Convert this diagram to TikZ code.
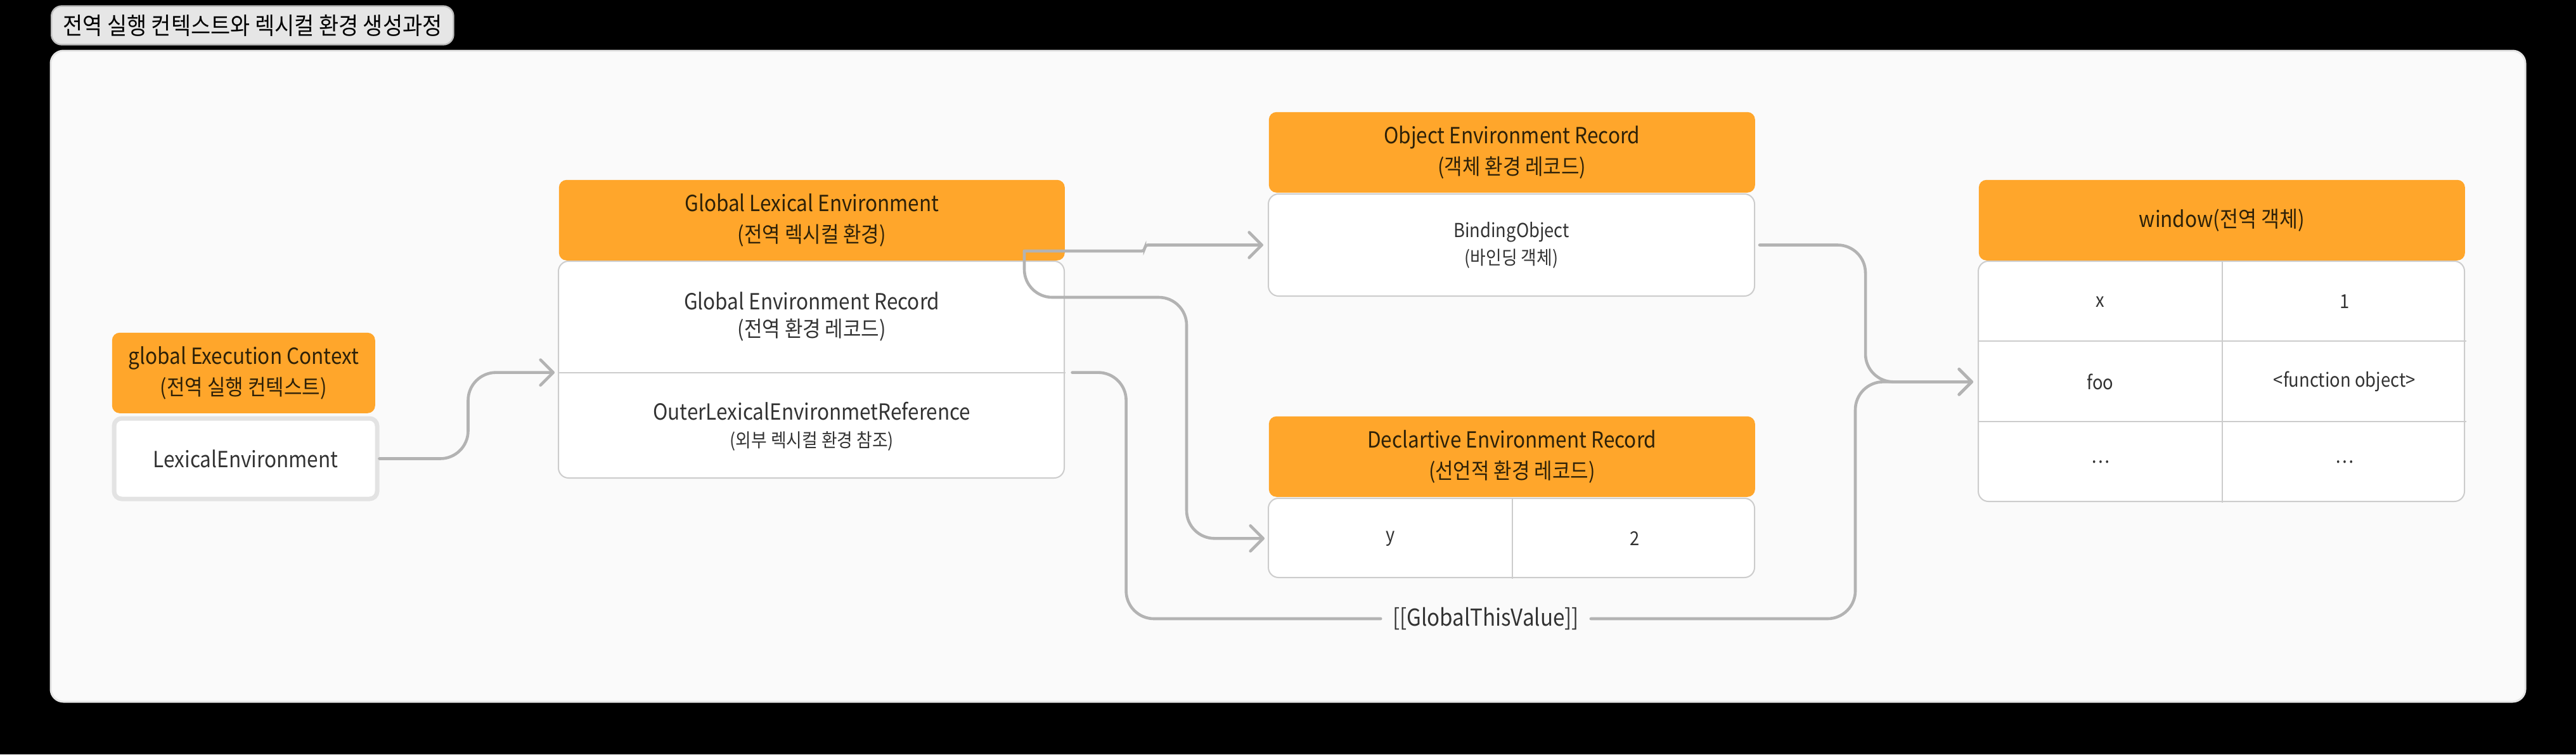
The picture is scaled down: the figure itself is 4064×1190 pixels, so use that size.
\documentclass[tikz,border=0pt]{standalone}
\usepackage{fontspec}
\setmainfont{Noto Sans CJK KR}[FakeStretch = 0.9]
\usetikzlibrary{arrows.meta}

\definecolor{headorange}{HTML}{FFA62B}
\definecolor{headink}{HTML}{2E2108}
\definecolor{bodyink}{HTML}{333333}
\definecolor{panelgray}{HTML}{FAFAFA}
\definecolor{panelline}{HTML}{E6E6E6}
\definecolor{titlegray}{HTML}{E6E6E6}
\definecolor{titleline}{HTML}{BDBDBD}
\definecolor{framegray}{HTML}{CCCCCC}
\definecolor{ctxline}{HTML}{E3E3E3}
\definecolor{linkgray}{HTML}{B3B3B3}

\newcommand{\bigtext}{\fontsize{8.75}{12.25}\selectfont}
\newcommand{\kortext}{\fontsize{8.6}{12.25}\selectfont}
\newcommand{\celltext}{\fontsize{7.6}{10.75}\selectfont}
\newcommand{\smalltext}{\fontsize{7.45}{10.75}\selectfont}

\begin{document}
\begin{tikzpicture}[%
        x = 0.25pt,
        y = -0.25pt,
        font = \bigtext,
        header/.style = {fill = headorange, text = headink, rounded corners = 3pt,
            minimum width = 191.75pt, minimum height = 31.75pt, align = center,
            inner sep = 0pt, anchor = north west},
        bodybox/.style = {draw = framegray, fill = white, line width = 0.5pt,
            rounded corners = 4pt, minimum width = 191.75pt, inner sep = 0pt,
            outer sep = 0pt, anchor = north west, align = center, text = bodyink},
        tablecell/.style = {minimum width = 95.875pt, minimum height = 31.6pt,
            inner sep = 0pt, anchor = north west, text = bodyink, font = \celltext},
        gridline/.style = {draw = framegray, line width = 0.5pt},
        link/.style = {draw = linkgray, line width = 1.15pt, rounded corners = 11pt,
            line cap = round, -{Straight Barb[length = 5pt, width = 10pt, round]}}
    ]

        % Black page and the light panel.
        \fill[black] (0,0) rectangle (4064,1190);
        \useasboundingbox (0,0) rectangle (4064,1190);
        \draw[fill = panelgray, draw = panelline, line width = 0.75pt, rounded corners = 5pt]
            (80,80) rectangle (3984,1107);

        % Title tab.
        \node[fill = titlegray, draw = titleline, line width = 0.6pt, rounded corners = 4pt,
            minimum height = 14pt, inner xsep = 4.5pt, anchor = west, text = black,
            font = \fontsize{9.4}{10}\selectfont] (title) at (80,40)
            {전역 실행 컨텍스트와 렉시컬 환경 생성과정};

        % Execution context.
        \node[header, minimum width = 103.75pt] (ctxhead) at (176,524)
            {\bigtext global Execution Context\\ \kortext (전역 실행 컨텍스트)};
        \node[bodybox, draw = ctxline, line width = 1.75pt, rounded corners = 3pt,
            minimum width = 103.75pt, minimum height = 31.75pt, outer sep = 0.875pt]
            (ctxbody) at (176.5,656.5) {LexicalEnvironment};

        % Global lexical environment.
        \node[header, minimum width = 199.5pt] (lexhead) at (881,283)
            {\bigtext Global Lexical Environment\\ \kortext (전역 렉시컬 환경)};
        \node[bodybox, minimum width = 199.5pt, minimum height = 85.5pt] (lexbody) at (881,412) {};
        \node[tablecell, minimum width = 199.5pt, minimum height = 43.5pt, align = center]
            (lexrec) at (lexbody.north west)
            {\bigtext Global Environment Record\\ \kortext (전역 환경 레코드)};
        \node[tablecell, minimum width = 199.5pt, minimum height = 42pt, align = center]
            (lexouter) at (lexrec.south west)
            {\bigtext OuterLexicalEnvironmetReference\\ \smalltext (외부 렉시컬 환경 참조)};
        \draw[gridline] (lexrec.south west) to (lexrec.south east);

        % Object environment record.
        \node[header] (objhead) at (2001,176)
            {\bigtext Object Environment Record\\ \kortext (객체 환경 레코드)};
        \node[bodybox, minimum height = 40.25pt, font = \celltext] (objbody) at (2001,306)
            {\celltext BindingObject\\ \smalltext (바인딩 객체)};

        % Declarative environment record.
        \node[header] (declhead) at (2001,656)
            {\bigtext Declartive Environment Record\\ \kortext (선언적 환경 레코드)};
        \node[bodybox, minimum height = 31.25pt] (declbody) at (2001,786) {};
        \node[tablecell, minimum height = 31.25pt] (declkey) at (declbody.north west) {y};
        \node[tablecell, minimum height = 31.25pt] (declval) at (declkey.north east) {2};
        \draw[gridline] (declkey.north east) to (declkey.south east);

        % Global object table.
        \node[header] (winhead) at (3121,283) {\bigtext window(전역 객체)};
        \node[bodybox, minimum height = 94.75pt] (winbody) at (3121,412) {};
        \foreach \key/\val [count = \row] in {x/1, foo/{<function object>}, {\ldots}/{\ldots}}{%
            \node[tablecell] (winkey\row) at (3121, {412 + (\row - 1)*126.33}) {\key};
            \node[tablecell] (winval\row) at (winkey\row.north east) {\val};

            % Row rules between the entries.
            \ifnum \row > 1
                \draw[gridline] (winkey\row.north west) to (winval\row.north east);
            \fi
        }
        \draw[gridline] (winkey1.north east) to (winkey3.south east);

        % Connectors.
        \coordinate (lexport) at (1616,396);
        \draw[link, shorten > = 1.5pt] (ctxbody.east) -- ++(140,0) |- (lexrec.south west);
        \draw[link, rounded corners = 1.2pt, shorten > = 2pt]
            (lexport) -- (1806,396) |- (objbody.west);
        \draw[link, shorten > = 1.5pt] (lexport) |- (1872,469) |- (declkey.west);

        % Reference to the global object, through its label.
        \node[inner xsep = 4.5pt, text = bodyink, font = \fontsize{9.2}{11}\selectfont]
            (glob) at (2344,976) {[[GlobalThisValue]]};
        \draw[link, -, shorten < = 2.75pt] (lexrec.south east) -- ++(96,0) |- (glob.west);
        \draw[link, shorten > = 2pt] (glob.east) -| ([xshift = -48.5pt]winkey2.west) -- (winkey2.west);
        \draw[link, shorten < = 2pt, shorten > = 2pt] (objbody.east) -- ++(175,0) |- (winkey2.west);
    \end{tikzpicture}
\end{document}
